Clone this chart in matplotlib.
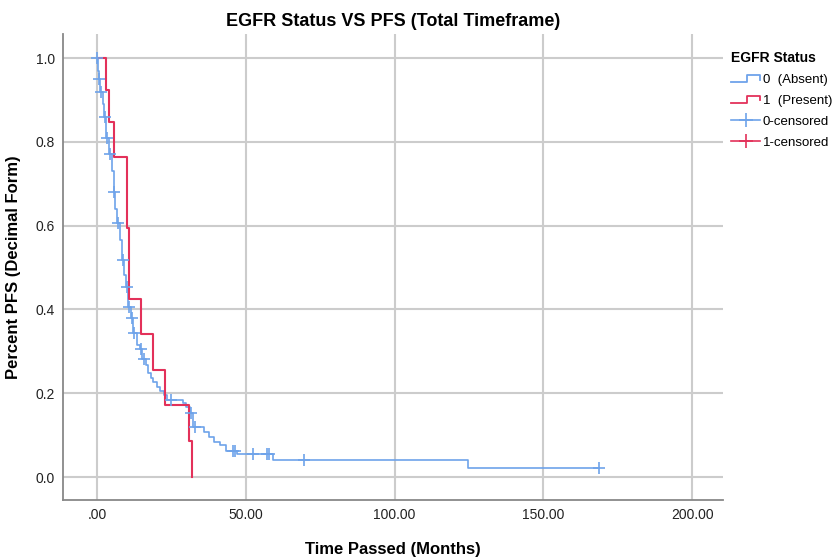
import matplotlib
matplotlib.use('Agg')
import matplotlib.pyplot as plt
from matplotlib.lines import Line2D
from matplotlib.legend_handler import HandlerBase

# EGFR absent (0) - survival steps
blue_times = [0.0, 0.3, 0.7, 1.0, 2.0, 2.4, 3.0, 4.0, 5.0, 5.7, 6.0, 6.7, 7.7, 8.4, 9.1, 9.7,
              10.4, 11.4, 12.1, 13.4, 14.5, 15.1, 16.5, 17.1, 18.2, 18.8, 20.2, 21.2, 22.5,
              23.5, 28.9, 29.9, 31.3, 32.3, 36.0, 37.6, 39.3, 41.3, 43.4, 47.1, 59.2, 124.7, 168.7]
blue_surv = [1.0, 0.97, 0.95, 0.92, 0.89, 0.86, 0.81, 0.77, 0.73, 0.68, 0.64, 0.606, 0.566, 0.518,
             0.482, 0.453, 0.406, 0.379, 0.344, 0.315, 0.305, 0.282, 0.267, 0.248, 0.236, 0.227,
             0.215, 0.205, 0.196, 0.184, 0.177, 0.167, 0.153, 0.119, 0.107, 0.095, 0.084, 0.076,
             0.062, 0.055, 0.041, 0.021, 0.021]
blue_cens = [0.0, 0.8, 1.5, 2.6, 3.5, 4.4, 5.8, 7.0, 8.7, 10.0, 10.9, 11.8, 12.6, 14.8, 15.8,
             24.9, 31.6, 32.8, 45.7, 46.4, 52.4, 57.1, 57.8, 69.6, 168.7]

# EGFR present (1)
red_times = [0.0, 3.0, 4.0, 5.7, 10.1, 10.8, 14.8, 18.8, 22.9, 30.9, 31.9]
red_surv = [1.0, 0.924, 0.847, 0.764, 0.594, 0.425, 0.341, 0.255, 0.172, 0.086, 0.0]

blue = '#6ea3ea'
red = '#e3315a'


def surv_at(t, times, surv):
    v = surv[0]
    for tt, s in zip(times, surv):
        if tt <= t:
            v = s
    return v


class StepHandler(HandlerBase):
    def create_artists(self, legend, orig, xd, yd, w, h, fontsize, trans):
        lo = yd + 0.1 * h
        hi = yd + 0.9 * h
        xs = [xd, xd + 0.55 * w, xd + 0.55 * w, xd + w, xd + w]
        ys = [lo, lo, hi, hi, lo + 0.3 * h]
        ln = Line2D(xs, ys, color=orig.get_color(), lw=1.3, transform=trans)
        return [ln]


plt.rcParams['font.family'] = ['Liberation Sans', 'DejaVu Sans']
fig = plt.figure(figsize=(8.35, 5.6), dpi=100)
ax = fig.add_axes([0.0754, 0.107, 0.7906, 0.832])

ax.step(blue_times, blue_surv, where='post', color=blue, lw=1.2, zorder=3)
ax.step(red_times, red_surv, where='post', color=red, lw=1.5, zorder=4)
ax.plot(blue_cens, [surv_at(t, blue_times, blue_surv) for t in blue_cens], ls='none',
        marker='+', ms=9, mew=1.2, color=blue, zorder=5)

ax.set_xlim(-11.4, 210.4)
ax.set_ylim(-0.055, 1.057)
ax.set_xticks([0, 50, 100, 150, 200])
ax.set_xticklabels(['.00', '50.00', '100.00', '150.00', '200.00'])
ax.set_yticks([0, 0.2, 0.4, 0.6, 0.8, 1.0])
ax.set_yticklabels(['0.0', '0.2', '0.4', '0.6', '0.8', '1.0'])
ax.tick_params(length=0, labelsize=10, colors='#222222', pad=6)
ax.grid(True, color='#cccccc', lw=1.5, zorder=0)
ax.set_axisbelow(True)
for s in ['top', 'right']:
    ax.spines[s].set_visible(False)
for s in ['left', 'bottom']:
    ax.spines[s].set_color('#888888')
    ax.spines[s].set_linewidth(1.3)

ax.set_title('EGFR Status VS PFS (Total Timeframe)', fontsize=13, fontweight='bold', pad=6)
ax.set_xlabel('Time Passed (Months)', fontsize=12, fontweight='bold', labelpad=14)
ax.set_ylabel('Percent PFS (Decimal Form)', fontsize=12, fontweight='bold', labelpad=10)

h0 = Line2D([], [], color=blue)
h1 = Line2D([], [], color=red)
h2 = Line2D([], [], color=blue, marker='+', ms=10, mew=1.2, lw=1.2)
h3 = Line2D([], [], color=red, marker='+', ms=10, mew=1.2, lw=1.2)
leg = ax.legend([h0, h1, h2, h3], ['0  (Absent)', '1  (Present)', '0-censored', '1-censored'],
                handler_map={h0: StepHandler(), h1: StepHandler()},
                loc='upper left', bbox_to_anchor=(1.0, 0.98), frameon=False,
                title='EGFR Status', fontsize=9.5, handlelength=2.2, handletextpad=0.2,
                labelspacing=0.65, borderaxespad=0.2)
leg.get_title().set_fontweight('bold')
leg.get_title().set_fontsize(10)
leg._legend_box.align = 'left'

fig.savefig('out.png', dpi=100)
